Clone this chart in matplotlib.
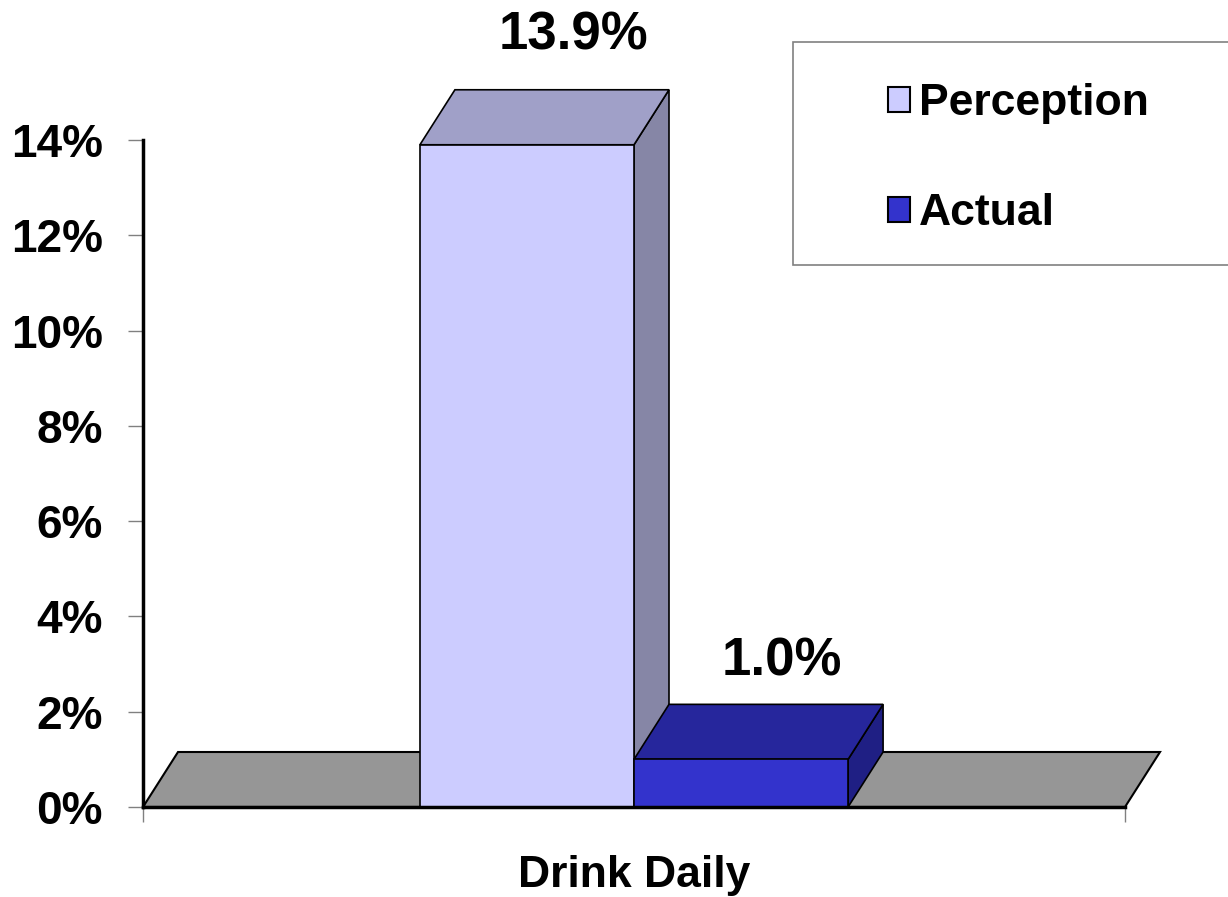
import matplotlib.pyplot as plt
from matplotlib.patches import Polygon, Patch, Rectangle

# data
series = ['Perception', 'Actual']
values = [13.9, 1.0]
value_labels = ['13.9%', '1.0%']
category = 'Drink Daily'
yticks = [0, 2, 4, 6, 8, 10, 12, 14]
ytick_labels = ['0%', '2%', '4%', '6%', '8%', '10%', '12%', '14%']

front_colors = ['#CCCCFF', '#3333CC']
top_colors = ['#A0A0C8', '#26269C']
side_colors = ['#8686A6', '#1F1F84']
floor_color = '#969696'
label_offsets = [(8, 21), (4, 13)]  # points, for the value labels

plt.rcParams['font.family'] = ['Liberation Sans', 'DejaVu Sans']
plt.rcParams['font.weight'] = 'bold'

W, H = 1228, 897
fig = plt.figure(figsize=(W / 100, H / 100), dpi=100)
ax = fig.add_axes([143 / W, (H - 807) / H, 982 / W, (807 - 140) / H])

xmin, xmax = -0.5, 0.5
ymin, ymax = 0, 14
ax.set_xlim(xmin, xmax)
ax.set_ylim(ymin, ymax)

# 3d depth offset, in data units
dx = 35 / 982 * (xmax - xmin)
dy = 55 / 667 * (ymax - ymin)

# floor
floor = Polygon([(xmin, 0), (xmax, 0), (xmax + dx, dy), (xmin + dx, dy)],
                closed=True, facecolor=floor_color, edgecolor='black',
                linewidth=1.5, clip_on=False, zorder=1)
ax.add_patch(floor)

bar_w = 0.218
positions = [-bar_w / 2, bar_w / 2]
for i, (pos, v) in enumerate(zip(positions, values)):
    b = ax.bar(pos, v, width=bar_w, color=front_colors[i], edgecolor='black',
               linewidth=1.2, zorder=3 + i * 2)[0]
    x0 = b.get_x()
    x1 = x0 + b.get_width()
    top = Polygon([(x0, v), (x1, v), (x1 + dx, v + dy), (x0 + dx, v + dy)],
                  closed=True, facecolor=top_colors[i], edgecolor='black',
                  linewidth=1.2, clip_on=False, zorder=2 + i * 2)
    side = Polygon([(x1, 0), (x1 + dx, dy), (x1 + dx, v + dy), (x1, v)],
                   closed=True, facecolor=side_colors[i], edgecolor='black',
                   linewidth=1.2, clip_on=False, zorder=2 + i * 2)
    ax.add_patch(side)
    ax.add_patch(top)
    ax.annotate(value_labels[i], xy=((x0 + x1) / 2 + dx, v + dy),
                xytext=label_offsets[i], textcoords='offset points',
                ha='center', va='bottom', fontsize=38, fontweight='bold',
                annotation_clip=False)

for s in ['top', 'right']:
    ax.spines[s].set_visible(False)
ax.spines['left'].set_linewidth(2.5)
ax.spines['bottom'].set_linewidth(2.5)
ax.spines['bottom'].set_zorder(8)

ax.set_yticks(yticks)
ax.set_yticklabels(ytick_labels, fontsize=33, fontweight='bold')
ax.tick_params(axis='y', length=11, width=1, color='#808080', pad=18)
ax.set_xticks([xmin, xmax])
ax.set_xticklabels(['', ''])
ax.tick_params(axis='x', length=11, width=1, color='#808080')
ax.set_xlabel(category, fontsize=32, fontweight='bold', labelpad=20)

# legend frame
fig.patches.append(Rectangle((793 / W, 1 - 265 / H), 460 / W, 223 / H,
                             transform=fig.transFigure, facecolor='white',
                             edgecolor='#808080', linewidth=1.2))
handles = [Patch(facecolor=front_colors[i], edgecolor='black', linewidth=1.5,
                 label=series[i]) for i in range(len(series))]
fig.legend(handles=handles, loc='upper left',
           bbox_to_anchor=(866 / W, 1 - 61 / H), frameon=False,
           handlelength=0.5, handleheight=0.5,
           handletextpad=0.2, labelspacing=1.55, borderpad=0,
           prop={'weight': 'bold', 'size': 32})

fig.savefig('out.png', dpi=100)
